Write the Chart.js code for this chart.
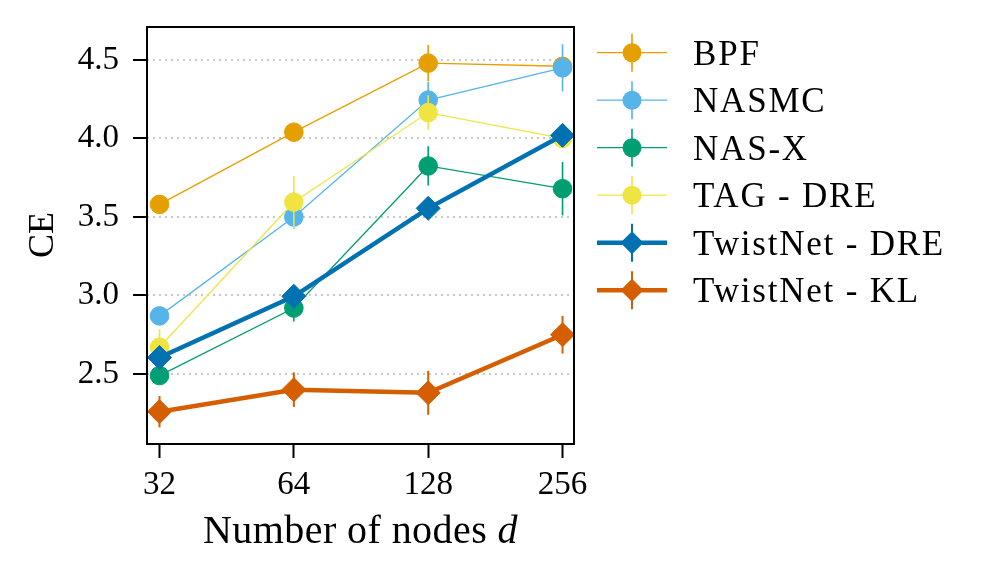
<!DOCTYPE html>
<html><head><meta charset="utf-8">
<script src="https://cdn.jsdelivr.net/npm/chart.js@4.4.1/dist/chart.umd.min.js"></script>
<style>html,body{margin:0;padding:0;background:#fff}#wrap{width:988px;height:578px;position:relative}</style>
</head><body><div id="wrap"><canvas id="c"></canvas></div>
<script>
// ---- data ----
const nodes = [32, 64, 128, 256];
const seriesNames = ['BPF', 'NASMC', 'NAS-X', 'TAG - DRE', 'TwistNet - DRE', 'TwistNet - KL'];
const bpf = [3.58, 4.04, 4.48, 4.46];
const bpfErr = [0.04, 0.04, 0.115, 0.04];
const nasmc = [2.87, 3.50, 4.245, 4.45];
const nasmcErr = [0.04, 0.075, 0.115, 0.15];
const nasx = [2.49, 2.92, 3.825, 3.68];
const nasxErr = [0.04, 0.085, 0.125, 0.17];
const tag = [2.67, 3.595, 4.165, 4.00];
const tagErr = [0.115, 0.165, 0.11, 0.04];
const twistDre = [2.605, 2.995, 3.555, 4.02];
const twistDreErr = [0.04, 0.04, 0.05, 0.05];
const twistKl = [2.26, 2.40, 2.38, 2.75];
const twistKlErr = [0.10, 0.11, 0.14, 0.12];
const yTicks = [2.5, 3.0, 3.5, 4.0, 4.5];
const xTitle = 'Number of nodes ';
const xTitleVar = 'd';
const yTitle = 'CE';

const values = [bpf, nasmc, nasx, tag, twistDre, twistKl];
const errors = [bpfErr, nasmcErr, nasxErr, tagErr, twistDreErr, twistKlErr];

// ---- styles ----
const colors = ['#E69F00', '#56B4E9', '#009E73', '#F0E442', '#0072B2', '#D55E00'];
const markers = ['circle', 'circle', 'circle', 'circle', 'rectRot', 'rectRot'];
const markerRadii = [9.3, 9.3, 9.3, 9.3, 12, 12];
const lineWidths = [1.3, 1.3, 1.3, 1.3, 4.5, 4.5];
const errWidths = [1.6, 1.6, 1.6, 1.6, 2, 2];
const SERIF = '"Liberation Serif", "Times New Roman", serif';

const datasets = seriesNames.map((name, i) => ({
  label: name,
  data: nodes.map((d, j) => ({ x: d, y: values[i][j] })),
  borderColor: colors[i],
  backgroundColor: colors[i],
  borderWidth: lineWidths[i],
  pointStyle: markers[i],
  pointRadius: markerRadii[i],
  pointHoverRadius: markerRadii[i],
  pointBackgroundColor: colors[i],
  pointBorderColor: colors[i],
  pointBorderWidth: 1,
  tension: 0,
  fill: false,
  order: seriesNames.length - i,
  errors: errors[i],
  errWidth: errWidths[i]
}));

const errorBars = {
  id: 'errorBars',
  beforeDatasetDraw(chart, args) {
    const ds = chart.data.datasets[args.index];
    const ys = chart.scales.y;
    const ctx = chart.ctx;
    const a = chart.chartArea;
    ctx.save();
    ctx.beginPath(); ctx.rect(a.left, a.top, a.right - a.left, a.bottom - a.top); ctx.clip();
    ctx.strokeStyle = ds.borderColor;
    ctx.lineWidth = ds.errWidth;
    args.meta.data.forEach((pt, j) => {
      const v = ds.data[j].y, e = ds.errors[j];
      ctx.beginPath();
      ctx.moveTo(pt.x, ys.getPixelForValue(v - e));
      ctx.lineTo(pt.x, ys.getPixelForValue(v + e));
      ctx.stroke();
    });
    ctx.restore();
  }
};

function drawMarker(ctx, style, x, y, r, color) {
  ctx.fillStyle = color;
  ctx.beginPath();
  if (style === 'circle') {
    ctx.arc(x, y, r, 0, Math.PI * 2);
  } else {
    ctx.moveTo(x, y - r); ctx.lineTo(x + r, y); ctx.lineTo(x, y + r); ctx.lineTo(x - r, y); ctx.closePath();
  }
  ctx.fill();
}

const decorations = {
  id: 'decorations',
  afterDraw(chart) {
    const ctx = chart.ctx;
    const a = chart.chartArea;
    ctx.save();
    // frame
    ctx.strokeStyle = '#000';
    ctx.lineWidth = 2;
    ctx.strokeRect(a.left, a.top, a.right - a.left, a.bottom - a.top);

    ctx.fillStyle = '#000';
    const hasLS = ('letterSpacing' in ctx);
    // y title
    ctx.save();
    ctx.font = '36px ' + SERIF;
    ctx.textAlign = 'center';
    ctx.textBaseline = 'alphabetic';
    ctx.translate(40.5, 235);
    ctx.rotate(-Math.PI / 2);
    ctx.fillText(yTitle, 0, 12);
    ctx.restore();

    // x title
    ctx.save();
    ctx.textAlign = 'left';
    ctx.textBaseline = 'alphabetic';
    if (hasLS) ctx.letterSpacing = '0px';
    ctx.font = '40px ' + SERIF;
    const w1 = ctx.measureText(xTitle).width;
    ctx.font = 'italic 40px ' + SERIF;
    const w2 = ctx.measureText(xTitleVar).width;
    const nChars = xTitle.length + xTitleVar.length;
    const target = 315;
    const sp = hasLS ? Math.max(0, (target - w1 - w2) / nChars) : 0;
    const total = w1 + w2 + sp * nChars;
    const x0 = (a.left + a.right) / 2 - total / 2;
    if (hasLS) ctx.letterSpacing = sp + 'px';
    ctx.font = '40px ' + SERIF;
    ctx.fillText(xTitle, x0, 543);
    ctx.font = 'italic 40px ' + SERIF;
    ctx.fillText(xTitleVar, x0 + w1 + sp * xTitle.length, 543);
    ctx.restore();

    // legend
    ctx.save();
    ctx.font = '35px ' + SERIF;
    if (hasLS) ctx.letterSpacing = '0px';
    const refW = ctx.measureText('TwistNet - DRE').width;
    const lsp = hasLS ? Math.max(0, (252 - refW) / 14) : 0;
    if (hasLS) ctx.letterSpacing = lsp + 'px';
    ctx.textAlign = 'left';
    ctx.textBaseline = 'alphabetic';
    chart.data.datasets.forEach((ds, i) => {
      const ry = 52.7 + i * 47.5;
      const lx0 = 597, lx1 = 667, mx = 632;
      ctx.strokeStyle = ds.borderColor;
      ctx.lineWidth = ds.borderWidth;
      ctx.beginPath(); ctx.moveTo(lx0, ry); ctx.lineTo(lx1, ry); ctx.stroke();
      ctx.lineWidth = ds.errWidth;
      ctx.beginPath(); ctx.moveTo(mx, ry - 19); ctx.lineTo(mx, ry + 19); ctx.stroke();
      drawMarker(ctx, ds.pointStyle, mx, ry, ds.pointStyle === 'circle' ? 9.5 : 11.5, ds.borderColor);
      ctx.fillStyle = '#000';
      ctx.fillText(ds.label, 693, ry + 12);
    });
    ctx.restore();
    ctx.restore();
  }
};

const tickFont = { family: SERIF, size: 33 };

new Chart(document.getElementById('c'), {
  type: 'line',
  data: { datasets },
  options: {
    responsive: true,
    maintainAspectRatio: false,
    animation: false,
    events: [],
    layout: { padding: { left: 0, top: 27, right: 414, bottom: 0 } },
    plugins: { legend: { display: false }, tooltip: { enabled: false } },
    scales: {
      x: {
        type: 'logarithmic',
        min: 30.0,
        max: 271.6,
        afterBuildTicks: s => { s.ticks = nodes.map(v => ({ value: v })); },
        afterFit: s => { s.height = 134; s.paddingLeft = 0; s.paddingRight = 0; },
        ticks: { callback: v => String(v), font: tickFont, color: '#000', padding: 8, maxRotation: 0, autoSkip: false },
        grid: { drawOnChartArea: false, drawTicks: true, tickLength: 14, tickWidth: 2, tickColor: '#000' },
        border: { display: false }
      },
      y: {
        type: 'linear',
        min: 2.054,
        max: 4.71,
        afterBuildTicks: s => { s.ticks = yTicks.map(v => ({ value: v })); },
        afterFit: s => { s.width = 147; s.paddingTop = 0; s.paddingBottom = 0; },
        ticks: { callback: v => Number(v).toFixed(1), font: tickFont, color: '#000', padding: 14 },
        grid: { color: '#c8c8c8', lineWidth: 2, drawTicks: true, tickLength: 14, tickWidth: 2, tickColor: '#000', tickBorderDash: [] },
        border: { display: false, dash: [2, 4] }
      }
    }
  },
  plugins: [errorBars, decorations]
});
</script>
</body></html>
